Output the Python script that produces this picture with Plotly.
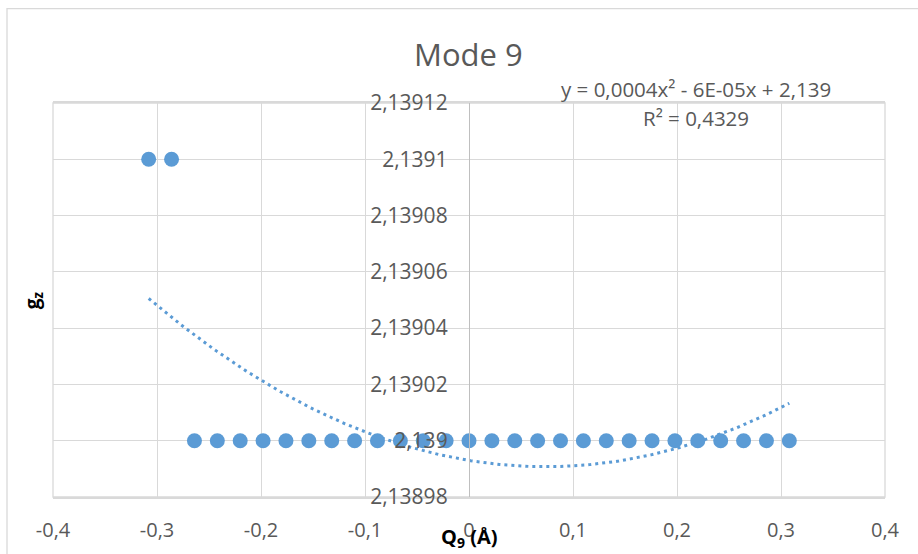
import numpy as np
import plotly.graph_objects as go

# ---- data ----
q9 = [-0.308, -0.286, -0.264, -0.242, -0.220, -0.198, -0.176, -0.154, -0.132, -0.110,
      -0.088, -0.066, -0.044, -0.022, 0.000, 0.022, 0.044, 0.066, 0.088, 0.110,
      0.132, 0.154, 0.176, 0.198, 0.220, 0.242, 0.264, 0.286, 0.308]
gz = [2.1391, 2.1391] + [2.139] * 27

x_tick_vals = [-0.4, -0.3, -0.2, -0.1, 0, 0.1, 0.2, 0.3, 0.4]
x_tick_text = ["-0,4", "-0,3", "-0,2", "-0,1", "0", "0,1", "0,2", "0,3", "0,4"]
y_tick_vals = [2.13898, 2.13900, 2.13902, 2.13904, 2.13906, 2.13908, 2.13910, 2.13912]
y_tick_text = ["2,13898", "2,139", "2,13902", "2,13904", "2,13906", "2,13908", "2,1391", "2,13912"]

title_text = "Mode 9"
eq_text = "y = 0,0004x² - 6E-05x + 2,139"
r2_text = "R² = 0,4329"

# polynomial (order 2) trendline fitted to the data
coef = np.polyfit(q9, gz, 2)
tx = np.linspace(min(q9), max(q9), 200)
ty = np.polyval(coef, tx)

BLUE = "#5B9BD5"
GRID = "#D9D9D9"
TXT = "#595959"
FONT = "Open Sans"

W, H = 918, 554
L, R, T, B = 53, 33, 102.5, 57
pw, ph = W - L - R, H - T - B

def px(x):
    return (x - L) / pw

def py(y):
    return (H - B - y) / ph

fig = go.Figure()
fig.add_trace(go.Scatter(x=tx, y=ty, mode="lines",
                         line=dict(color=BLUE, width=3, dash="3px,4px"),
                         hoverinfo="skip", showlegend=False))
fig.add_trace(go.Scatter(x=q9, y=gz, mode="markers",
                         marker=dict(color=BLUE, size=15, line=dict(width=0)),
                         showlegend=False))

fig.update_layout(
    width=W, height=H,
    margin=dict(l=L, r=R, t=T, b=B, pad=0, autoexpand=False),
    paper_bgcolor="white", plot_bgcolor="white",
    separators=",.",
    font=dict(family=FONT, color=TXT),
    showlegend=False,
    xaxis=dict(range=[-0.4, 0.4], tickvals=x_tick_vals, ticktext=x_tick_text,
               showgrid=True, gridcolor=GRID, gridwidth=1.3, zeroline=False,
               showline=True, linecolor=GRID, linewidth=1.5, mirror=True,
               automargin=False,
               ticks="", tickfont=dict(size=20, color=TXT, family=FONT),
               ticklabelstandoff=14),
    yaxis=dict(range=[2.13898, 2.13912], tickvals=y_tick_vals, ticktext=y_tick_text,
               showgrid=True, gridcolor=GRID, gridwidth=1.3, zeroline=False,
               showline=True, linecolor="#BFBFBF", linewidth=1.3,
               anchor="free", position=0.5, side="left", automargin=False,
               ticks="", tickfont=dict(size=21, color=TXT, family=FONT),
               ticklabelstandoff=17),
)

# plot-area side borders and outer chart border
fig.add_shape(type="rect", xref="paper", yref="paper", x0=0, x1=1, y0=0, y1=1,
              line=dict(color=GRID, width=1.3), layer="below")
fig.add_shape(type="rect", xref="paper", yref="paper",
              x0=px(7), x1=px(930), y0=py(570), y1=py(8),
              line=dict(color=GRID, width=1.3), layer="below")

ann = [
    dict(text=title_text, x=px(468), y=py(53), font=dict(size=31, color=TXT, family=FONT)),
    dict(text=eq_text, x=px(696), y=py(88), font=dict(size=20.5, color=TXT, family=FONT)),
    dict(text=r2_text, x=px(696), y=py(118), font=dict(size=20.5, color=TXT, family=FONT)),
    dict(text="<b>Q<sub>9</sub> (Å)</b>", x=px(469), y=py(538),
         font=dict(size=20, color="black", family=FONT)),
    dict(text="<b>g<sub>z</sub></b>", x=px(33), y=py(300), textangle=-90,
         font=dict(size=19, color="black", family=FONT)),
]
for a in ann:
    fig.add_annotation(xref="paper", yref="paper", showarrow=False,
                       xanchor="center", yanchor="middle", **a)

fig.write_html("out.html")
